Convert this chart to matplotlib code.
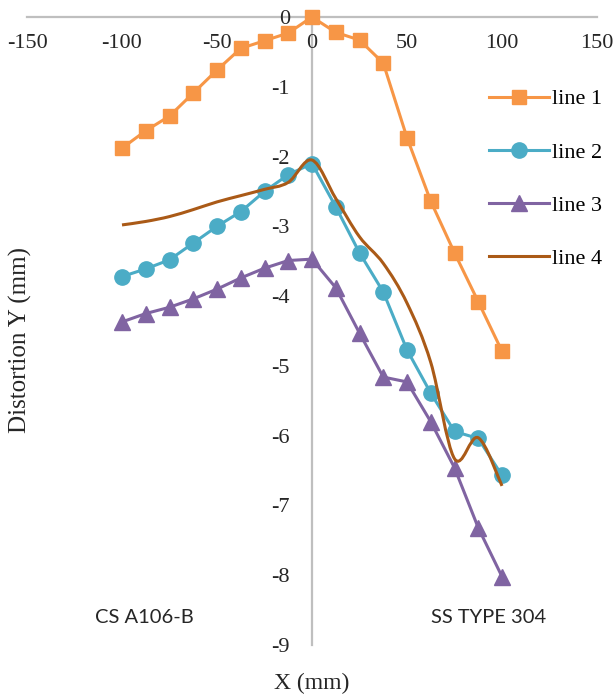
import numpy as np
import matplotlib.pyplot as plt
from matplotlib.path import Path
from matplotlib.patches import PathPatch
from matplotlib.lines import Line2D

plt.rcParams['axes.unicode_minus'] = False

# Posiciones X (mm) comunes a todas las series
x = [-100, -87.5, -75, -62.5, -50, -37.5, -25, -12.5, 0,
     12.5, 25, 37.5, 50, 62.5, 75, 87.5, 100]

# Distorsión Y (mm) de cada serie
line1 = [-1.88, -1.63, -1.42, -1.09, -0.76, -0.45, -0.34, -0.23, 0.0,
         -0.22, -0.33, -0.66, -1.73, -2.64, -3.38, -4.08, -4.79]
line2 = [-3.72, -3.61, -3.48, -3.24, -3.00, -2.79, -2.50, -2.26, -2.10,
         -2.72, -3.38, -3.94, -4.77, -5.39, -5.94, -6.04, -6.57]
line3 = [-4.37, -4.25, -4.16, -4.04, -3.90, -3.74, -3.60, -3.49, -3.47,
         -3.88, -4.53, -5.16, -5.23, -5.80, -6.46, -7.32, -8.02]
line4 = [-2.98, -2.93, -2.86, -2.76, -2.65, -2.56, -2.47, -2.37, -2.05,
         -2.60, -3.15, -3.53, -4.10, -4.95, -6.33, -6.03, -6.72]

labels = ['line 1', 'line 2', 'line 3', 'line 4']
materials = ['CS A106-B', 'SS TYPE 304']

serif = 'Liberation Serif'
fs = 16


# Curva suavizada estilo Excel (Bezier con tangentes de Catmull-Rom)
def smooth_path(xs, ys):
    p = np.column_stack([xs, ys])
    verts = [p[0]]
    codes = [Path.MOVETO]
    n = len(p)
    for i in range(n - 1):
        p0 = p[i - 1] if i > 0 else p[i]
        p3 = p[i + 2] if i + 2 < n else p[i + 1]
        c1 = p[i] + (p[i + 1] - p0) / 6
        c2 = p[i + 1] - (p3 - p[i]) / 6
        verts += [c1, c2, p[i + 1]]
        codes += [Path.CURVE4] * 3
    return Path(verts, codes)


fig = plt.figure(figsize=(6.16, 6.95), dpi=100)
ax = fig.add_axes([27 / 616, 50 / 695, 570 / 616, 628 / 695])

lw = 2.2
ax.plot(x, line1, color='#F79646', lw=lw, marker='s', ms=10.5, clip_on=False, zorder=3)
ax.plot(x, line2, color='#4BACC6', lw=lw, marker='o', ms=11, clip_on=False, zorder=3)
ax.plot(x, line3, color='#8064A2', lw=lw, marker='^', ms=11, clip_on=False, zorder=3)
ax.add_patch(PathPatch(smooth_path(x, line4), fill=False, edgecolor='#AA5A17',
                       lw=lw, zorder=4, clip_on=False))

ax.set_xlim(-150, 150)
ax.set_ylim(-9, 0)
ax.set_xticks(np.arange(-150, 151, 50))
ax.set_yticks(np.arange(-9, 1, 1))

# Ejes cruzando en el origen
for s in ['top', 'right']:
    ax.spines[s].set_visible(False)
ax.spines['left'].set_position(('data', 0))
ax.spines['bottom'].set_position(('data', 0))
for s in ['left', 'bottom']:
    ax.spines[s].set_color('#bfbfbf')
    ax.spines[s].set_linewidth(1.6)
    ax.spines[s].set_zorder(1)
ax.tick_params(axis='x', length=0, pad=12, labelsize=fs, labelcolor='#262626')
ax.tick_params(axis='y', length=0, pad=16, labelsize=fs, labelcolor='#262626')
for t in ax.get_xticklabels() + ax.get_yticklabels():
    t.set_fontfamily(serif)

fig.text(20 / 616, 1 - 340 / 695, 'Distortion Y (mm)', rotation=90, ha='center',
         va='center', family=serif, fontsize=18, color='#262626')
fig.text(312 / 616, 1 - 683 / 695, 'X (mm)', ha='center', va='center',
         family=serif, fontsize=17, color='#262626')

ax.text(-88, -8.6, materials[0], ha='center', va='center', family='Lato',
        fontsize=14.5, color='#262626')
ax.text(93, -8.6, materials[1], ha='center', va='center', family='Lato',
        fontsize=14.5, color='#262626')

handles = [
    Line2D([], [], color='#F79646', lw=lw, marker='s', ms=10.5),
    Line2D([], [], color='#4BACC6', lw=lw, marker='o', ms=11),
    Line2D([], [], color='#8064A2', lw=lw, marker='^', ms=11),
    Line2D([], [], color='#AA5A17', lw=lw),
]
leg = ax.legend(handles, labels, loc='upper left', bbox_to_anchor=(480 / 616, 1 - 80 / 695),
                bbox_transform=fig.transFigure, frameon=False, handlelength=2.7,
                handletextpad=0.15, labelspacing=1.47, borderaxespad=0,
                prop={'family': serif, 'size': fs})

fig.savefig('out.png', dpi=100)
